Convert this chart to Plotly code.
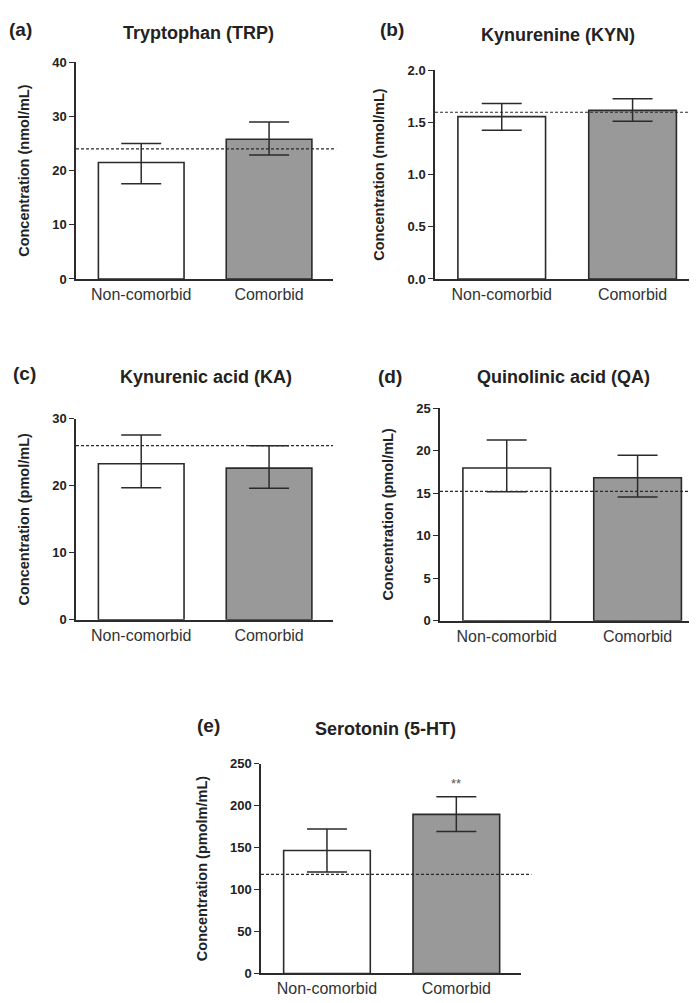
import plotly.graph_objects as go

W, H = 697, 1003

groups = ["Non-comorbid", "Comorbid"]

panel_tags = ["(a)", "(b)", "(c)", "(d)", "(e)"]
panel_titles = ["Tryptophan (TRP)", "Kynurenine (KYN)", "Kynurenic acid (KA)",
                "Quinolinic acid (QA)", "Serotonin (5-HT)"]
y_titles = ["Concentration (nmol/mL)", "Concentration (nmol/mL)",
            "Concentration (pmol/mL)", "Concentration (pmol/mL)",
            "Concentration (pmolm/mL)"]

trp_mean = [21.5, 25.8]
trp_upper = [25.0, 29.0]
trp_lower = [17.6, 22.9]
trp_ref = 24.0

kyn_mean = [1.555, 1.615]
kyn_upper = [1.68, 1.725]
kyn_lower = [1.425, 1.51]
kyn_ref = 1.597

ka_mean = [23.3, 22.65]
ka_upper = [27.6, 26.0]
ka_lower = [19.7, 19.65]
ka_ref = 26.0

qa_mean = [17.95, 16.8]
qa_upper = [21.25, 19.45]
qa_lower = [15.15, 14.55]
qa_ref = 15.2

ht_mean = [146.5, 189.5]
ht_upper = [172.0, 210.5]
ht_lower = [121.0, 169.0]
ht_ref = 118.0

y_ranges = [[0, 40], [0, 2.0], [0, 30], [0, 25], [0, 250]]
y_dticks = [10, 0.5, 10, 5, 50]
y_tickformats = ["d", ".1f", "d", "d", "d"]
significance = [["", ""], ["", ""], ["", ""], ["", ""], ["", "**"]]

means = [trp_mean, kyn_mean, ka_mean, qa_mean, ht_mean]
uppers = [trp_upper, kyn_upper, ka_upper, qa_upper, ht_upper]
lowers = [trp_lower, kyn_lower, ka_lower, qa_lower, ht_lower]
refs = [trp_ref, kyn_ref, ka_ref, qa_ref, ht_ref]

# layout boxes in pixels: (x_left, x_right, y_top, y_bottom)
boxes = [(68, 325, 48, 268), (427, 690, 56, 268), (68, 325, 410, 614),
         (432, 695, 399, 615), (253, 513, 760, 973)]
title_pos = [(190, 18), (550, 20), (198, 367), (555, 367), (377, 725)]
tag_pos = [(12, 15), (384, 15), (16, 364), (382, 367), (200, 721)]
ref_ext = [1.012, 1.0, 1.0, 0.98, 1.04]

DARK = "#2b2b2b"
FONT = "Liberation Sans, Arial, sans-serif"
fills = ["#ffffff", "#999999"]

fig = go.Figure()
annotations = []
shapes = []

def px_x(v):
    return v / W

def px_y(v):
    return 1 - v / H

for i in range(5):
    xa = "x" if i == 0 else f"x{i+1}"
    ya = "y" if i == 0 else f"y{i+1}"
    m = means[i]
    up = [u - v for u, v in zip(uppers[i], m)]
    lo = [v - l for l, v in zip(lowers[i], m)]
    fig.add_trace(go.Bar(
        x=groups, y=m, xaxis=xa, yaxis=ya, width=0.67,
        marker=dict(color=fills, line=dict(color=DARK, width=1.6)),
        error_y=dict(type="data", symmetric=False, array=up, arrayminus=lo,
                     color=DARK, thickness=1.5, width=20),
        showlegend=False, hoverinfo="y",
    ))
    for g, s, u in zip(groups, significance[i], uppers[i]):
        if s:
            annotations.append(dict(x=g, y=u, xref=xa, yref=ya, text=s,
                                    showarrow=False, yanchor="bottom", yshift=4,
                                    font=dict(family=FONT, size=13, color="#555")))
    shapes.append(dict(type="line", xref=f"{xa} domain", yref=ya,
                       x0=0, x1=ref_ext[i], y0=refs[i], y1=refs[i],
                       line=dict(color=DARK, width=1.2, dash="3px,2px"), layer="above"))
    xl, xr, yt, yb = boxes[i]
    axkey = "xaxis" if i == 0 else f"xaxis{i+1}"
    aykey = "yaxis" if i == 0 else f"yaxis{i+1}"
    fig.update_layout(**{
        axkey: dict(domain=[px_x(xl), px_x(xr)], anchor=ya, range=[-0.51, 1.5],
                    showline=True, linecolor=DARK, linewidth=1.5, showgrid=False,
                    zeroline=False, ticks="", fixedrange=True,
                    tickfont=dict(family=FONT, size=16, color="#333")),
        aykey: dict(domain=[px_y(yb), px_y(yt)], anchor=xa, range=y_ranges[i],
                    dtick=y_dticks[i], tick0=0, tickformat=y_tickformats[i],
                    showline=True, linecolor=DARK, linewidth=1.5, showgrid=False,
                    zeroline=False, ticks="outside", ticklen=5, tickwidth=1.2,
                    tickcolor=DARK,
                    tickfont=dict(family=FONT, size=13, color="#222", weight="bold"),
                    title=dict(text=y_titles[i], standoff=19,
                               font=dict(family=FONT, size=14.5, color="#222",
                                         weight="bold"))),
    })
    tx, ty = title_pos[i]
    annotations.append(dict(x=px_x(tx), y=px_y(ty), xref="paper", yref="paper",
                            text="<b>" + panel_titles[i] + "</b>", showarrow=False,
                            xanchor="center", yanchor="middle",
                            font=dict(family=FONT, size=18, color="#222")))
    gx, gy = tag_pos[i]
    annotations.append(dict(x=px_x(gx), y=px_y(gy), xref="paper", yref="paper",
                            text="<b>" + panel_tags[i] + "</b>", showarrow=False,
                            xanchor="center", yanchor="middle",
                            font=dict(family=FONT, size=19, color="#222")))

fig.update_layout(
    width=W, height=H, margin=dict(l=0, r=0, t=0, b=0),
    paper_bgcolor="white", plot_bgcolor="white",
    annotations=annotations, shapes=shapes, showlegend=False,
    font=dict(family=FONT),
)

fig.write_html("out.html", config={"displayModeBar": False})
